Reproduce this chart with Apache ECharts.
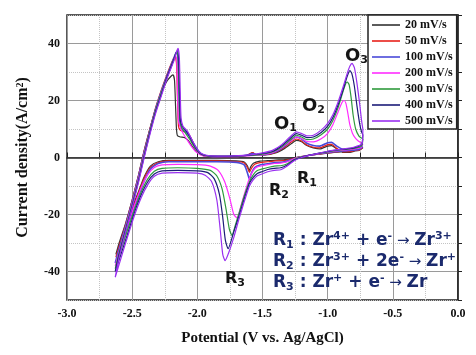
<!DOCTYPE html>
<html><head><meta charset="utf-8">
<script src="https://cdn.jsdelivr.net/npm/echarts@6/dist/echarts.min.js"></script>
<style>html,body{margin:0;padding:0;background:#fff}#c{width:476px;height:355px}</style>
</head><body><div id="c"></div>
<script>
// Cyclic voltammograms: [potential (V vs Ag/AgCl), current density (A/cm2)], sweep starts at -0.73 V
const cv20 = [[-0.73,3.4],[-0.76,2.5],[-0.85,2.2],[-0.95,1.8],[-1.05,1.3],[-1.15,0.7],[-1.22,0.2],[-1.28,-0.4],[-1.34,-0.8],[-1.4,-0.9],[-1.46,-1.1],[-1.52,-1.3],[-1.57,-2.0],[-1.59,-3.2],[-1.603,-4.6],[-1.615,-3],[-1.64,-1.6],[-1.7,-1.2],[-1.85,-1.0],[-2.05,-1.0],[-2.22,-1.0],[-2.3,-1.5],[-2.36,-3],[-2.41,-7],[-2.46,-13],[-2.52,-20],[-2.58,-28],[-2.625,-34],
  [-2.6,-30],[-2.55,-23],[-2.5,-15],[-2.45,-6],[-2.41,2],[-2.37,9],[-2.32,17],[-2.27,23.5],[-2.23,27],[-2.2,28.6],[-2.186,29],[-2.175,27],[-2.167,18],[-2.16,10],[-2.152,7.6],[-2.13,7.2],[-2.1,7],[-2.07,6],[-2.04,4],[-2.0,1.8],[-1.95,0.6],[-1.85,0.3],[-1.7,0.4],[-1.62,0.7],[-1.575,1.6],[-1.545,0.9],[-1.48,0.9],[-1.4,1.6],[-1.33,3.2],[-1.28,4.8],[-1.24,6],[-1.2,5.5],[-1.16,4.2],[-1.11,3.4],[-1.06,3.0],[-1.0,4.0],[-0.97,4.2],[-0.93,3.0],[-0.88,1.8],[-0.82,1.9],[-0.77,2.6],[-0.73,3.4]];
const cv50 = [[-0.73,3.5],[-0.76,2.6],[-0.85,2.3],[-0.95,1.9],[-1.05,1.3],[-1.15,0.7],[-1.22,0.1],[-1.28,-0.6],[-1.34,-1.1],[-1.4,-1.2],[-1.46,-1.5],[-1.52,-1.8],[-1.56,-2.4],[-1.585,-3.8],[-1.6,-5.2],[-1.615,-3.6],[-1.64,-1.9],[-1.7,-1.4],[-1.85,-1.2],[-2.05,-1.2],[-2.22,-1.2],[-2.3,-1.8],[-2.36,-3.5],[-2.41,-7.5],[-2.46,-13.5],[-2.52,-21],[-2.58,-29],[-2.625,-35],
  [-2.6,-31],[-2.55,-23.5],[-2.5,-15],[-2.45,-6],[-2.41,2],[-2.37,9],[-2.32,17.5],[-2.27,24.5],[-2.23,29.5],[-2.2,33],[-2.18,35],[-2.17,35.5],[-2.16,33],[-2.152,20],[-2.145,11],[-2.13,9.5],[-2.1,9],[-2.07,8.5],[-2.04,6],[-2.0,2.5],[-1.96,0.8],[-1.88,0.4],[-1.7,0.4],[-1.62,0.8],[-1.575,1.7],[-1.545,1.0],[-1.48,1.0],[-1.4,1.8],[-1.33,3.6],[-1.28,5.4],[-1.24,6.5],[-1.2,5.8],[-1.16,4.4],[-1.11,3.6],[-1.06,3.4],[-1.0,4.5],[-0.97,4.6],[-0.93,3.2],[-0.88,2.0],[-0.82,2.1],[-0.77,2.8],[-0.73,3.5]];
const cv100 = [[-0.73,3.8],[-0.76,2.8],[-0.85,2.4],[-0.95,2.0],[-1.05,1.4],[-1.15,0.7],[-1.22,0.0],[-1.28,-0.8],[-1.34,-1.6],[-1.4,-1.8],[-1.46,-2.2],[-1.52,-2.6],[-1.56,-3.5],[-1.585,-5.5],[-1.6,-7.6],[-1.615,-5.5],[-1.64,-2.6],[-1.7,-1.7],[-1.85,-1.5],[-2.05,-1.5],[-2.22,-1.5],[-2.3,-2.1],[-2.36,-4],[-2.41,-8.5],[-2.46,-14.5],[-2.52,-22],[-2.58,-30.5],[-2.63,-37],
  [-2.6,-32],[-2.55,-24],[-2.5,-15.5],[-2.45,-6.5],[-2.41,1.5],[-2.37,8.5],[-2.32,17],[-2.27,24],[-2.23,29],[-2.2,32.5],[-2.175,35.5],[-2.16,37],[-2.15,36],[-2.142,25],[-2.135,13],[-2.12,10],[-2.09,9],[-2.06,7.5],[-2.03,5],[-1.99,2.2],[-1.95,0.8],[-1.88,0.4],[-1.7,0.5],[-1.62,0.8],[-1.575,1.4],[-1.545,1.0],[-1.48,1.1],[-1.4,2.0],[-1.33,4.0],[-1.28,6.0],[-1.24,7.2],[-1.2,6.5],[-1.16,5.0],[-1.11,4.2],[-1.06,4.0],[-1.0,5.2],[-0.97,5.3],[-0.93,4.0],[-0.88,2.8],[-0.82,2.8],[-0.77,3.2],[-0.73,3.8]];
const cv200 = [[-0.73,4.8],[-0.745,3.4],[-0.8,2.9],[-0.9,2.5],[-1.0,1.9],[-1.1,1.1],[-1.2,0.3],[-1.26,-0.5],[-1.31,-1.5],[-1.36,-2.0],[-1.41,-2.1],[-1.46,-2.5],[-1.5,-2.9],[-1.54,-3.3],[-1.57,-4.5],[-1.6,-7.2],[-1.63,-11.5],[-1.66,-16],[-1.695,-21.2],[-1.72,-20],[-1.75,-14.5],[-1.79,-8.5],[-1.84,-4.5],[-1.9,-3.0],[-2.0,-2.5],[-2.15,-2.4],[-2.27,-2.6],[-2.33,-3.5],[-2.38,-6],[-2.43,-10.5],[-2.48,-16.5],[-2.54,-24.5],[-2.59,-31.5],[-2.63,-38],
  [-2.6,-33],[-2.55,-24.5],[-2.5,-16],[-2.45,-7],[-2.41,1],[-2.37,8],[-2.32,16.5],[-2.27,23.5],[-2.23,28.5],[-2.2,32],[-2.18,34.5],[-2.168,36],[-2.158,34],[-2.152,22],[-2.145,13],[-2.13,10.5],[-2.11,8.5],[-2.08,6.3],[-2.05,4.2],[-2.01,2.0],[-1.96,0.6],[-1.88,0.3],[-1.7,0.3],[-1.6,0.6],[-1.5,1.0],[-1.42,1.8],[-1.35,3.5],[-1.29,5.6],[-1.24,7.2],[-1.2,6.6],[-1.16,5.6],[-1.11,5.5],[-1.05,6.6],[-1.0,8.5],[-0.96,11.5],[-0.92,16],[-0.89,19.3],[-0.874,20],[-0.86,19],[-0.845,15.5],[-0.83,11.5],[-0.81,8.5],[-0.79,7],[-0.765,5.8],[-0.745,5.2],[-0.73,4.8]];
const cv300 = [[-0.73,6.5],[-0.74,4],[-0.8,3.2],[-0.9,2.7],[-1.0,2.0],[-1.1,1.2],[-1.2,0.2],[-1.26,-0.8],[-1.31,-2.2],[-1.36,-2.9],[-1.41,-3.0],[-1.46,-3.5],[-1.5,-4.0],[-1.54,-4.6],[-1.57,-6],[-1.6,-8.5],[-1.64,-13.5],[-1.68,-19.5],[-1.71,-24],[-1.734,-27.4],[-1.755,-25],[-1.78,-18],[-1.81,-11],[-1.85,-6.5],[-1.9,-4.5],[-2.0,-3.8],[-2.15,-3.6],[-2.27,-3.8],[-2.33,-4.8],[-2.38,-7.5],[-2.43,-12],[-2.48,-18],[-2.54,-26],[-2.59,-33],[-2.63,-39],
  [-2.6,-33.5],[-2.55,-25],[-2.5,-16.5],[-2.45,-7.5],[-2.41,0.5],[-2.37,8],[-2.32,16.5],[-2.27,23.5],[-2.23,28.5],[-2.2,32],[-2.18,34.5],[-2.165,36.5],[-2.155,37],[-2.147,34],[-2.14,22],[-2.133,13],[-2.115,10],[-2.09,8.5],[-2.06,6.5],[-2.02,3.5],[-1.98,1.4],[-1.93,0.6],[-1.8,0.4],[-1.6,0.7],[-1.5,1.2],[-1.42,2.0],[-1.35,3.8],[-1.29,6.0],[-1.24,7.8],[-1.2,7.2],[-1.16,6.3],[-1.11,6.5],[-1.05,8],[-1.0,10],[-0.96,13],[-0.92,17.5],[-0.89,22],[-0.865,25.5],[-0.85,26.5],[-0.835,25.5],[-0.82,21],[-0.805,15],[-0.785,10],[-0.76,7.5],[-0.74,6.8],[-0.73,6.5]];
const cv400 = [[-0.73,8],[-0.74,4.5],[-0.8,3.4],[-0.9,2.8],[-1.0,2.1],[-1.1,1.2],[-1.2,0.1],[-1.26,-1.0],[-1.31,-2.6],[-1.36,-3.6],[-1.41,-3.8],[-1.46,-4.2],[-1.5,-4.9],[-1.54,-5.6],[-1.57,-7],[-1.6,-9],[-1.64,-14.5],[-1.68,-20.5],[-1.72,-26],[-1.764,-32],[-1.785,-29],[-1.805,-21],[-1.83,-13],[-1.87,-7.5],[-1.92,-5.3],[-2.0,-4.7],[-2.15,-4.5],[-2.27,-4.7],[-2.33,-5.8],[-2.38,-8.5],[-2.43,-13],[-2.48,-19],[-2.54,-27.5],[-2.59,-34.5],[-2.63,-40],
  [-2.6,-34],[-2.55,-25.5],[-2.5,-17],[-2.45,-8],[-2.41,0],[-2.37,7.5],[-2.32,16],[-2.27,23],[-2.23,28.5],[-2.2,32],[-2.18,34.5],[-2.165,36.5],[-2.152,37.5],[-2.143,34],[-2.136,22],[-2.13,13],[-2.11,10.5],[-2.08,9],[-2.05,6.5],[-2.01,3.2],[-1.97,1.2],[-1.9,0.5],[-1.75,0.4],[-1.6,0.8],[-1.5,1.4],[-1.42,2.2],[-1.35,4.2],[-1.29,6.6],[-1.24,8.4],[-1.2,7.8],[-1.16,7],[-1.11,7.2],[-1.05,8.8],[-1.0,11],[-0.96,14],[-0.92,18.5],[-0.88,24],[-0.85,28.5],[-0.83,30.5],[-0.815,29.5],[-0.795,25],[-0.775,18],[-0.755,12],[-0.74,9],[-0.73,8]];
const cv500 = [[-0.73,10],[-0.735,5],[-0.8,3.6],[-0.9,2.9],[-1.0,2.2],[-1.1,1.2],[-1.2,0.0],[-1.26,-1.2],[-1.31,-3.0],[-1.36,-4.3],[-1.41,-4.5],[-1.46,-5.0],[-1.5,-5.7],[-1.54,-6.4],[-1.57,-7.8],[-1.6,-10],[-1.64,-15.5],[-1.68,-21.5],[-1.72,-28],[-1.76,-33.5],[-1.787,-36.2],[-1.805,-34],[-1.825,-25],[-1.85,-15],[-1.89,-8.5],[-1.94,-6.2],[-2.0,-5.5],[-2.15,-5.3],[-2.27,-5.5],[-2.33,-6.6],[-2.38,-9.5],[-2.43,-14],[-2.48,-20],[-2.54,-28.5],[-2.59,-36],[-2.63,-42],
  [-2.6,-35],[-2.55,-26],[-2.5,-17.5],[-2.45,-8.5],[-2.41,-0.5],[-2.37,7],[-2.32,15.5],[-2.27,22.5],[-2.23,28],[-2.2,31.5],[-2.175,34.5],[-2.16,37],[-2.148,38.3],[-2.138,35],[-2.131,23],[-2.125,14],[-2.11,11],[-2.08,9.5],[-2.05,7],[-2.01,3.5],[-1.97,1.4],[-1.9,0.6],[-1.75,0.5],[-1.6,0.9],[-1.5,1.6],[-1.42,2.6],[-1.35,4.6],[-1.29,7.2],[-1.24,9],[-1.2,8.4],[-1.16,7.6],[-1.11,7.8],[-1.05,9.6],[-1.0,12],[-0.96,15],[-0.92,19.5],[-0.88,25],[-0.85,29.5],[-0.83,32],[-0.813,33],[-0.795,31.5],[-0.775,26],[-0.755,19],[-0.74,13],[-0.73,10]];

const scanRates = ['20 mV/s', '50 mV/s', '100 mV/s', '200 mV/s', '300 mV/s', '400 mV/s', '500 mV/s'];
const curves = [cv20, cv50, cv100, cv200, cv300, cv400, cv500];
const xTickRange = [-3.0, 0.0];
const yTickRange = [-40, 40];

const colors = ['#333333', '#e8201a', '#4a4ad8', '#ff2cff', '#2f9a3c', '#1c1c78', '#9a30f0'];
const serif = "'Liberation Serif', 'Times New Roman', serif";
const sans = "'DejaVu Sans', sans-serif";

const chart = echarts.init(document.getElementById('c'));

const series = curves.map((d, i) => ({
  name: scanRates[i], type: 'line', data: d, xAxisIndex: 0, yAxisIndex: 0,
  symbol: 'none', smooth: 0.2, clip: true,
  lineStyle: { color: colors[i], width: i === 2 ? 1.6 : 1.2 },
  itemStyle: { color: colors[i] }
}));

function peakLabel(x, y, letter, idx, size) {
  return {
    type: 'text', x: x, y: y, z: 50,
    style: {
      text: '{m|' + letter + '}{s|' + idx + '}',
      align: 'left', verticalAlign: 'middle',
      rich: {
        m: { fontFamily: sans, fontWeight: 'bold', fontSize: size, fill: '#151515', lineHeight: 20 },
        s: { fontFamily: sans, fontWeight: 'bold', fontSize: 11, fill: '#151515', lineHeight: 10, verticalAlign: 'bottom' }
      }
    }
  };
}
const navy = '#1b2a6d';
const rxRich = {
  b: { fontFamily: sans, fontWeight: 'bold', fontSize: 17, fill: navy, lineHeight: 20 },
  s: { fontFamily: sans, fontWeight: 'bold', fontSize: 11, fill: navy, lineHeight: 12, verticalAlign: 'bottom' },
  p: { fontFamily: sans, fontWeight: 'bold', fontSize: 11, fill: navy, lineHeight: 14, verticalAlign: 'top' },
  a: { fontFamily: sans, fontSize: 15, fill: navy, lineHeight: 20 }
};
function rxLine(y, text) {
  return { type: 'text', x: 273, y: y, z: 50, style: { text: text, align: 'left', verticalAlign: 'middle', rich: rxRich } };
}

chart.setOption({
  animation: false,
  backgroundColor: '#fff',
  grid: [
    { left: 67, top: 15, width: 391, height: 285, show: true, borderColor: '#222', borderWidth: 1.5, backgroundColor: 'transparent' },
    { left: 67, top: 43.5, width: 391, height: 228, show: false }
  ],
  xAxis: [
    { type: 'value', gridIndex: 0, min: xTickRange[0], max: xTickRange[1], interval: 0.5,
      axisLine: { show: true, lineStyle: { color: '#222', width: 1.5 } },
      axisTick: { show: true, inside: true, length: 5, lineStyle: { color: '#222' } },
      minorTick: { show: true, splitNumber: 2, length: 5, lineStyle: { color: '#222' } },
      splitLine: { show: true, lineStyle: { color: '#9a9a9a', width: 1 } },
      minorSplitLine: { show: true, lineStyle: { color: '#c4c4c4', type: 'dotted', width: 1 } },
      axisLabel: { formatter: v => v.toFixed(1), fontFamily: serif, fontWeight: 'bold', fontSize: 12, color: '#111', margin: 8 },
      name: 'Potential (V vs. Ag/AgCl)', nameLocation: 'middle', nameGap: 31,
      nameTextStyle: { fontFamily: serif, fontWeight: 'bold', fontSize: 15, color: '#111' }
    },
    { type: 'value', gridIndex: 1, min: xTickRange[0], max: xTickRange[1], show: false }
  ],
  yAxis: [
    { type: 'value', gridIndex: 0, min: -50, max: 50, interval: 10,
      axisLine: { show: true, lineStyle: { color: '#222', width: 1.5 } },
      axisTick: { show: true, inside: true, length: 4, lineStyle: { color: '#222' } },
      axisLabel: { show: false },
      splitLine: { show: true, lineStyle: { color: '#c4c4c4', type: 'dotted', width: 1 } }
    },
    { type: 'value', gridIndex: 1, min: yTickRange[0], max: yTickRange[1], interval: 20,
      axisLine: { show: false }, axisTick: { show: false },
      splitLine: { show: true, lineStyle: { color: '#9a9a9a', width: 1 } },
      axisLabel: { fontFamily: serif, fontWeight: 'bold', fontSize: 12, color: '#111', margin: 7 },
      name: 'Current density(A/cm{s|2})', nameLocation: 'middle', nameGap: 36,
      nameTextStyle: { fontFamily: serif, fontWeight: 'bold', fontSize: 16, color: '#111',
        rich: { s: { fontFamily: serif, fontWeight: 'bold', fontSize: 10, color: '#111', verticalAlign: 'top', lineHeight: 12 } } }
    }
  ],
  legend: {
    orient: 'vertical', left: 368, top: 15,
    backgroundColor: '#fff', borderColor: '#222', borderWidth: 1.5,
    padding: [4, 4, 2, 4], itemWidth: 28, itemHeight: 1.6, itemGap: 4,
    icon: 'rect',
    textStyle: { fontFamily: serif, fontWeight: 'bold', fontSize: 12, color: '#111', lineHeight: 12 },
    data: scanRates
  },
  graphic: [
    peakLabel(274, 124, 'O', '1', 18),
    peakLabel(302, 106, 'O', '2', 18),
    peakLabel(345, 56, 'O', '3', 18),
    peakLabel(297, 179, 'R', '1', 16),
    peakLabel(269, 191, 'R', '2', 16),
    peakLabel(225, 279, 'R', '3', 16),
    rxLine(241, '{b|R}{s|1}{b| : Zr}{p|4+}{b| + e}{p|-}{a| → }{b|Zr}{p|3+}'),
    rxLine(262, '{b|R}{s|2}{b| : Zr}{p|3+}{b| + 2e}{p|-}{a| → }{b|Zr}{p|+}'),
    rxLine(283, '{b|R}{s|3}{b| : Zr}{p|+}{b| + e}{p|-}{a| → }{b|Zr}')
  ],
  series: series
});
</script>
</body></html>
